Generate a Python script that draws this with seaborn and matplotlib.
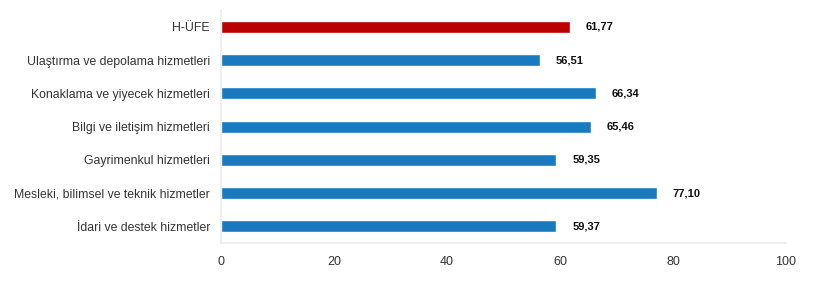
import matplotlib
matplotlib.use("Agg")
import matplotlib.pyplot as plt
import seaborn as sns
import pandas as pd

categories = ["H-ÜFE", "Ulaştırma ve depolama hizmetleri", "Konaklama ve yiyecek hizmetleri",
              "Bilgi ve iletişim hizmetleri", "Gayrimenkul hizmetleri",
              "Mesleki, bilimsel ve teknik hizmetler", "İdari ve destek hizmetler"]
values = [61.77, 56.51, 66.34, 65.46, 59.35, 77.10, 59.37]
colors = ["#bb0000"] + ["#1a7abf"] * 6

sns.set_theme(style="white")
plt.rcParams['font.family'] = ['Liberation Sans', 'DejaVu Sans']

df = pd.DataFrame({"cat": categories, "val": values})
fig = plt.figure(figsize=(8.2, 2.92), dpi=100)
ax = fig.add_axes([0.2695, 0.1678, 0.689, 0.797])
sns.barplot(data=df, y="cat", x="val", hue="cat", palette=colors, legend=False,
            width=0.36, ax=ax, saturation=1)
ax.set_xlim(0, 100)
ax.set_xticks([0, 20, 40, 60, 80, 100])
ax.set_xlabel("")
ax.set_ylabel("")
for s in ["top", "right"]:
    ax.spines[s].set_visible(False)
for s in ["left", "bottom"]:
    ax.spines[s].set_color("#ececec")
    ax.spines[s].set_linewidth(1.2)
ax.tick_params(axis="x", length=0, pad=9, labelsize=9, labelcolor="#333333")
ax.tick_params(axis="y", length=0, pad=8, labelsize=8.8, labelcolor="#333333")
for i, v in enumerate(values):
    ax.text(v + 2.8, i, f"{v:.2f}".replace(".", ","), va="center", ha="left",
            fontsize=8, fontweight="bold", color="#111111")
fig.savefig("out.png", dpi=100)
